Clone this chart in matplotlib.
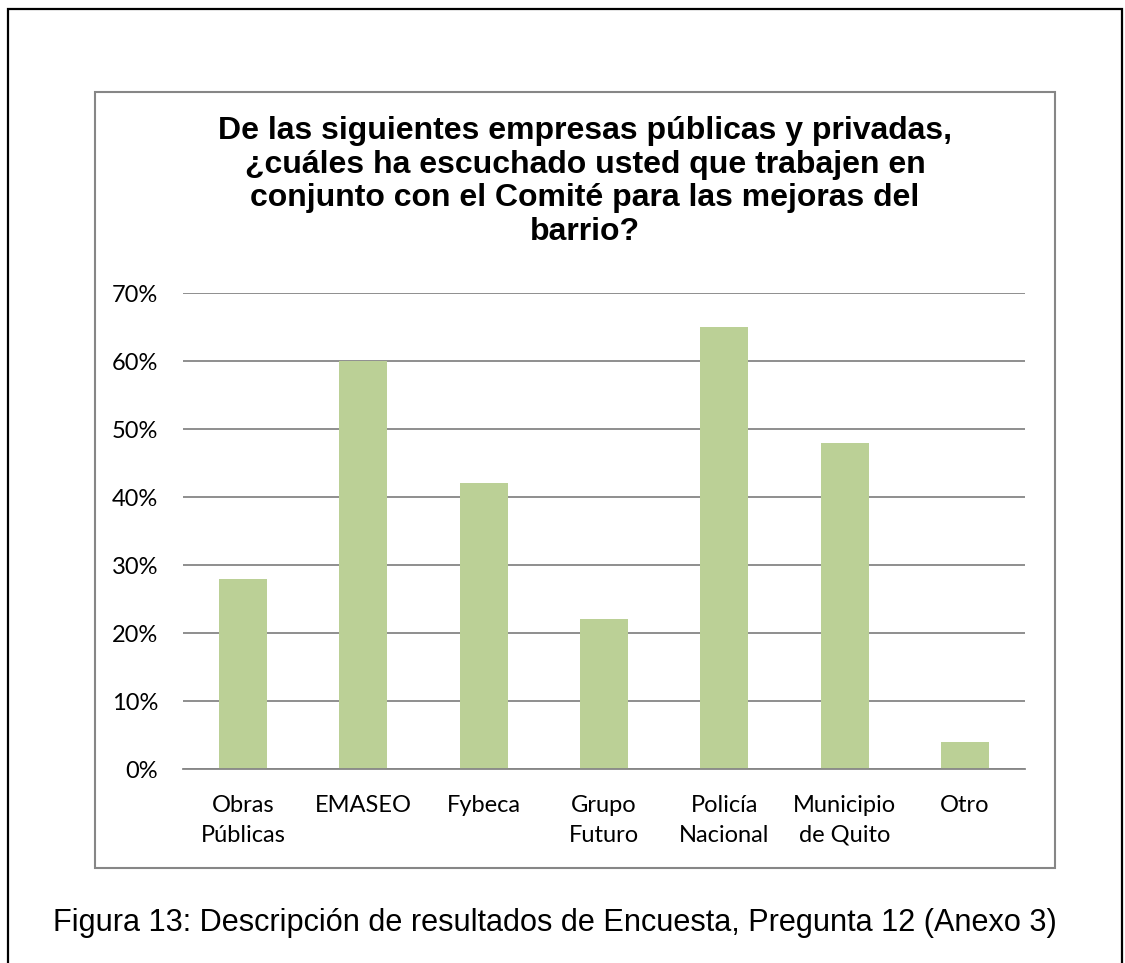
import matplotlib
matplotlib.use("Agg")
import matplotlib.pyplot as plt
from matplotlib.patches import Rectangle
from matplotlib.ticker import PercentFormatter

categorias = ["Obras\nPúblicas", "EMASEO", "Fybeca", "Grupo\nFuturo",
              "Policía\nNacional", "Municipio\nde Quito", "Otro"]
valores = [28, 60, 42, 22, 65, 48, 4]
yticks = [0, 10, 20, 30, 40, 50, 60, 70]

titulo = ("De las siguientes empresas públicas y privadas,\n"
          "¿cuáles ha escuchado usted que trabajen en\n"
          "conjunto con el Comité para las mejoras del\n"
          "barrio?")
leyenda = "Figura 13: Descripción de resultados de Encuesta, Pregunta 12 (Anexo 3)"

W, H = 1125, 963
gris = "#868686"
verde = "#BBD096"

fig = plt.figure(figsize=(W / 100, H / 100), dpi=100)

# cadre noir exterieur (bas coupé)
fig.patches.append(Rectangle((8 / W, -0.05), (1122 - 8) / W, 1 - 9 / H + 0.05,
                             transform=fig.transFigure, fill=False,
                             edgecolor="black", linewidth=1.6))
# cadre gris du graphique
fig.patches.append(Rectangle((95 / W, 1 - 868 / H), (1055 - 95) / W, (868 - 92) / H,
                             transform=fig.transFigure, fill=False,
                             edgecolor=gris, linewidth=1.5))

ax = fig.add_axes([183 / W, 1 - 769 / H, (1025 - 183) / W, (769 - 293) / H])
x = range(len(categorias))
ax.bar(x, valores, width=0.4, color=verde, zorder=2)
ax.set_ylim(0, 70)
ax.set_xlim(-0.5, len(categorias) - 0.5)
ax.set_yticks(yticks)
ax.yaxis.set_major_formatter(PercentFormatter(decimals=0))
ax.grid(axis="y", color=gris, linewidth=1.3, zorder=1)
for s in ["left", "right", "top"]:
    ax.spines[s].set_visible(False)
ax.spines["bottom"].set_color(gris)
ax.spines["bottom"].set_linewidth(1.3)
ax.set_xticks(list(x))
ax.set_xticklabels(categorias, linespacing=1.5)
ax.tick_params(axis="both", length=0, labelsize=17, colors="black")
ax.tick_params(axis="y", pad=18)
ax.tick_params(axis="x", pad=19)
for lab in ax.get_xticklabels() + ax.get_yticklabels():
    lab.set_family("Lato")
for lab in ax.get_xticklabels():
    lab.set_va("top")

fig.text(585 / W, 1 - 116 / H, titulo, ha="center", va="top", fontsize=23,
         fontweight="bold", family="Liberation Sans", linespacing=1.16)
fig.text(555 / W, 1 - 923 / H, leyenda, ha="center", va="center", fontsize=22.1,
         family="Liberation Sans")

fig.savefig("out.png", dpi=100)
